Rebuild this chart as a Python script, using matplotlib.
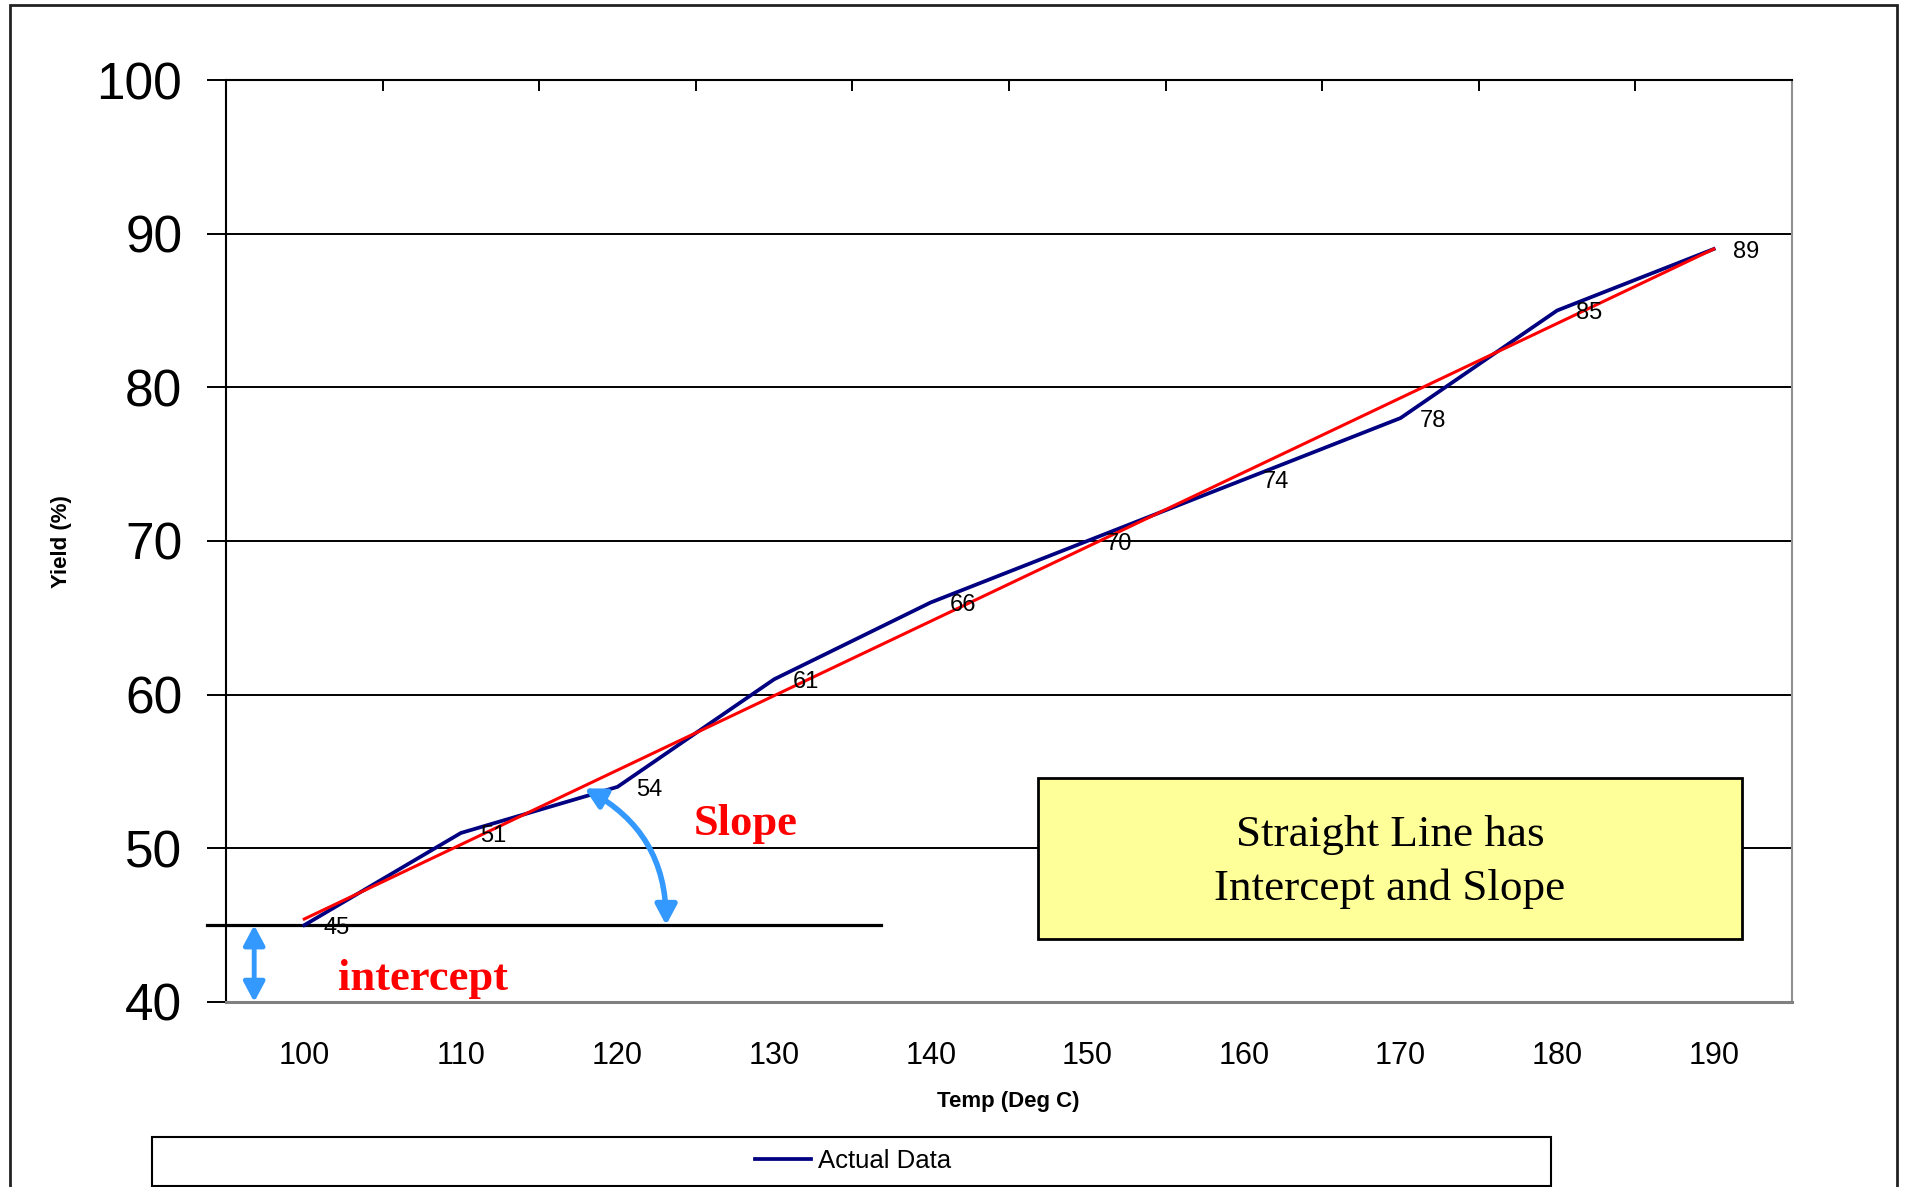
import matplotlib.pyplot as plt
from matplotlib.patches import Rectangle, FancyArrowPatch

temps = [100, 110, 120, 130, 140, 150, 160, 170, 180, 190]
yields = [45, 51, 54, 61, 66, 70, 74, 78, 85, 89]
# straight-line fit, value at first and last temperature
fit_ends = [45.4, 89.0]
baseline = 45
yticks = [40, 50, 60, 70, 80, 90, 100]

W, H = 1913, 1187
fig = plt.figure(figsize=(W / 100, H / 100), dpi=100)
plt.rcParams['font.family'] = ['Liberation Sans', 'DejaVu Sans']

# plot area in pixels: left 226, right 1792, top 80, bottom 1002
ax = fig.add_axes([226 / W, (H - 1002) / H, (1792 - 226) / W, (1002 - 80) / H])

xs = list(range(len(temps)))
line, = ax.plot(xs, yields, color='#000080', lw=2.7, zorder=4, label='Actual Data')
ax.plot([xs[0], xs[-1]], fit_ends, color='#FF0000', lw=2.2, zorder=5)

for x, y in zip(xs, yields):
    ax.annotate(str(y), (x, y), xytext=(23, -2), textcoords='offset points',
                ha='center', va='center', fontsize=17, zorder=6)

ax.set_xlim(-0.5, len(temps) - 0.5)
ax.set_ylim(40, 100)
ax.set_yticks(yticks)
ax.set_yticklabels([str(v) for v in yticks], fontsize=37)
ax.set_xticks(xs)
ax.set_xticklabels([str(t) for t in temps], fontsize=22)
ax.set_xticks([x - 0.5 for x in range(len(temps) + 1)], minor=True)

ax.tick_params(axis='y', direction='out', length=13.5, width=1.4, pad=18)
ax.tick_params(axis='x', which='major', length=0, pad=28)
ax.tick_params(axis='x', which='minor', bottom=False, top=True, direction='in',
               length=8, width=1.4)

ax.yaxis.grid(True, color='black', lw=1.4)
ax.set_axisbelow(True)
for side in ['top', 'left']:
    ax.spines[side].set_color('black')
    ax.spines[side].set_linewidth(1.5)
ax.spines['right'].set_color('#909090')
ax.spines['right'].set_linewidth(1.5)
ax.spines['bottom'].set_color('#808080')
ax.spines['bottom'].set_linewidth(2.2)

# horizontal reference at the intercept level
ax.plot([-0.62, 3.68], [baseline, baseline], color='black', lw=2.3, zorder=3,
        clip_on=False)

blue = '#3399FF'
arrow_style = '<|-|>,head_length=0.75,head_width=0.4'
ax.add_patch(FancyArrowPatch((-0.32, baseline), (-0.32, 40), arrowstyle=arrow_style,
                             mutation_scale=16, color=blue, lw=3.5, zorder=6,
                             shrinkA=0, shrinkB=0, clip_on=False))
ax.add_patch(FancyArrowPatch((1.79, 53.9), (2.31, baseline), arrowstyle=arrow_style,
                             connectionstyle='arc3,rad=-0.3', mutation_scale=16,
                             color=blue, lw=4, zorder=6, shrinkA=0, shrinkB=0))

ax.text(2.82, 51.6, 'Slope', color='red', fontsize=32, fontweight='bold',
        family='Liberation Serif', ha='center', va='center', zorder=7)
ax.text(0.76, 41.5, 'intercept', color='red', fontsize=32, fontweight='bold',
        family='Liberation Serif', ha='center', va='center', zorder=7)

# yellow note box, pixels 1038..1742 x 778..939
bx0, bx1 = (1038 - 226) / 1566, (1742 - 226) / 1566
by0, by1 = (1002 - 939) / 922, (1002 - 778) / 922
ax.add_patch(Rectangle((bx0, by0), bx1 - bx0, by1 - by0, transform=ax.transAxes,
                       facecolor='#FFFF99', edgecolor='black', lw=2, zorder=7))
ax.text((bx0 + bx1) / 2, (by0 + by1) / 2 - 0.004, 'Straight Line has\nIntercept and Slope',
        transform=ax.transAxes, family='Liberation Serif', fontsize=32.5,
        ha='center', va='center', linespacing=1.42, zorder=8)

fig.text(1008 / W, 1 - 1102 / H, 'Temp (Deg C)', fontsize=16, fontweight='bold',
         ha='center', va='center')
fig.text(61 / W, 1 - 542 / H, 'Yield (%)', fontsize=16, fontweight='bold',
         ha='center', va='center', rotation=90)

# legend strip along the bottom
fig.patches.append(Rectangle((152 / W, 1 - 1186 / H), (1551 - 152) / W, 49 / H,
                             transform=fig.transFigure, facecolor='white',
                             edgecolor='black', lw=1.5))
fig.legend(handles=[line], loc='center', bbox_to_anchor=(853 / W, 1 - 1161 / H),
           frameon=False, fontsize=18.5, handlelength=2.2, handletextpad=0.25)

# outer chart border
fig.patches.append(Rectangle((10 / W, -0.05), (1897 - 10) / W, 1.05 - 5 / H,
                             transform=fig.transFigure, fill=False,
                             edgecolor='#222222', lw=2))

fig.savefig('out.png', dpi=100)
